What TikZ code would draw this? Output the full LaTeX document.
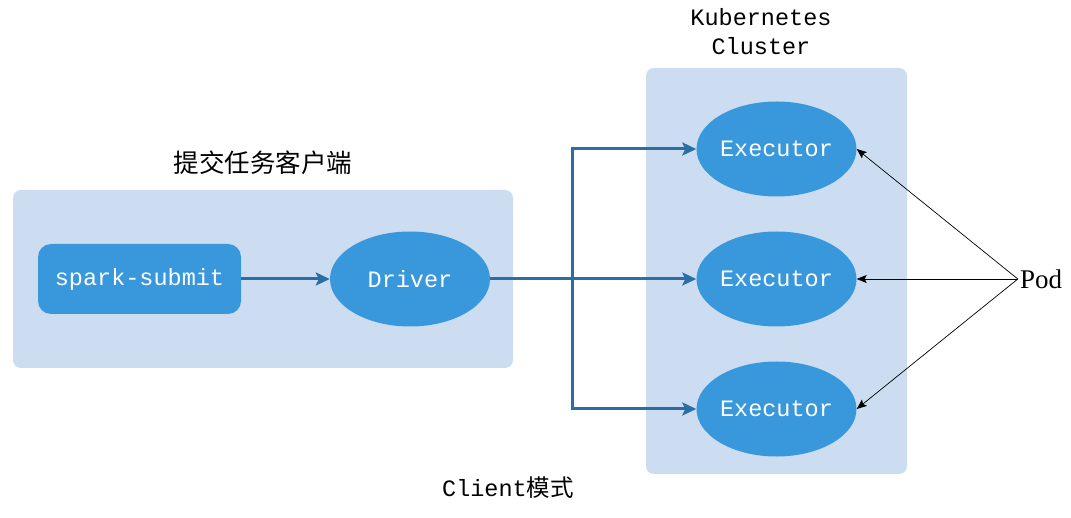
\documentclass[tikz,border=0pt]{standalone}
\usepackage{fontspec}
\setmainfont{Liberation Serif}
\setmonofont{Liberation Mono}
\newfontfamily\cjk{Noto Sans CJK SC}
\usetikzlibrary{shapes.geometric,arrows.meta}
\definecolor{groupbg}{HTML}{CCDDF1}
\definecolor{nodefill}{HTML}{3898DB}
\definecolor{flowline}{HTML}{2B6EA5}
\begin{document}
\begin{tikzpicture}[x=1pt, y=-1pt,
		group/.style = {fill=groupbg, rounded corners=8pt, inner sep=0},
		mono/.style = {font=\fontsize{23.5}{29}\selectfont\ttfamily},
		box/.style = {mono, fill=nodefill, text=white, rounded corners=13pt,
			minimum width=203pt, minimum height=70pt, inner sep=0},
		oval/.style = {mono, ellipse, fill=nodefill, text=white,
			minimum width=160pt, minimum height=95pt, inner sep=0},
		flow/.style = {draw=flowline, line width=3pt,
			-{Stealth[length=14pt, width=13pt, inset=3pt]}},
		podline/.style = {draw=black, line width=0.7pt,
			-{Stealth[length=10pt, width=8pt, inset=2pt]}}]
		\useasboundingbox (0, 0) rectangle (1071, 518);
		% groups
		\node[group, minimum width=500pt, minimum height=178pt] (client) at (263, 279) {};
		\node[font=\fontsize{25.5}{25.5}\selectfont\cjk] (clienttitle) at (263, 163) {提交任务客户端};
		\node[group, minimum width=261pt, minimum height=406pt] (cluster) at (776.5, 271) {};
		\node[mono, align=center] (clustertitle) at (761, 32) {Kubernetes\\Cluster};
		% nodes
		\node[box] (submit) at (139.5, 279) {spark-submit};
		\node[oval] (driver) at (410, 279) {Driver};
		\node[oval] (exec1) at (776.5, 149) {Executor};
		\node[oval] (exec2) at (776.5, 279) {Executor};
		\node[oval] (exec3) at (776.5, 409) {Executor};
		\node[font=\fontsize{27}{27}\selectfont, inner sep=2pt] (pod) at (1041, 279) {Pod};
		\node[mono] (mode) at (508, 488) {Client{\cjk 模式}};
		% connectors
		\coordinate (split) at (572, 279);
		\draw[flow] (submit) -- (driver);
		\draw[flow] (driver) -- (exec2);
		\draw[flow] (split) |- (exec1);
		\draw[flow] (split) |- (exec3);
		\draw[podline] (pod.west) -- (exec1.east);
		\draw[podline] (pod.west) -- (exec2.east);
		\draw[podline] (pod.west) -- (exec3.east);
	\end{tikzpicture}
\end{document}
